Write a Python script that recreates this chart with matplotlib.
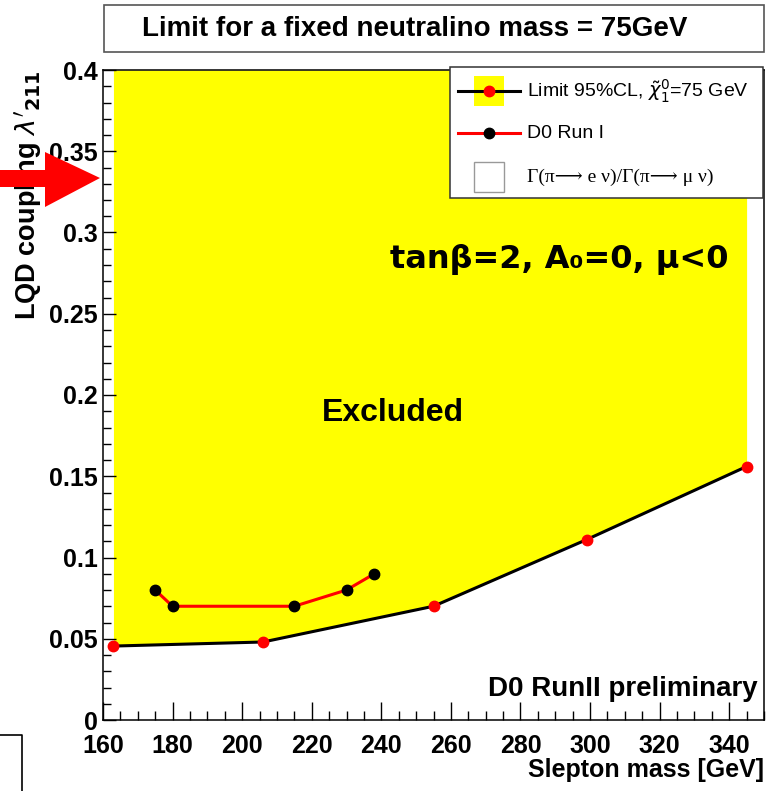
import numpy as np
import matplotlib
matplotlib.use("Agg")
import matplotlib.pyplot as plt
from matplotlib.patches import Rectangle, Polygon
from matplotlib.lines import Line2D
from matplotlib.ticker import MultipleLocator, FormatStrFormatter

# D0 Run II limit, neutralino mass = 75 GeV
limit_mass = [163, 206, 255, 299, 345]
limit_coupling = [0.0455, 0.048, 0.070, 0.111, 0.156]

# D0 Run I limit
run1_mass = [175, 180, 215, 230, 238]
run1_coupling = [0.080, 0.070, 0.070, 0.080, 0.090]

plt.rcParams['font.family'] = ['Liberation Sans', 'DejaVu Sans']

W, H = 775, 791
fig = plt.figure(figsize=(W / 100, H / 100), dpi=100)


def px(x, y):
    # pixel position (from top-left) -> figure fraction
    return (x / W, 1 - y / H)


ax = fig.add_axes([103 / W, 1 - 720 / H, (764 - 103) / W, (720 - 70) / H])

ax.fill_between(limit_mass, limit_coupling, 0.4, color='#ffff00', lw=0)
ax.plot(limit_mass, limit_coupling, color='black', lw=2.2, zorder=3)
ax.plot(limit_mass, limit_coupling, 'o', color='red', ms=7.5, zorder=4)
ax.plot(run1_mass, run1_coupling, color='red', lw=2.2, zorder=3)
ax.plot(run1_mass, run1_coupling, 'o', color='black', ms=7.5, zorder=4)

ax.set_xlim(160, 350)
ax.set_ylim(0, 0.4)
ax.xaxis.set_major_locator(MultipleLocator(20))
ax.xaxis.set_minor_locator(MultipleLocator(5))
ax.yaxis.set_major_locator(MultipleLocator(0.05))
ax.yaxis.set_minor_locator(MultipleLocator(0.01))
ax.yaxis.set_major_formatter(FormatStrFormatter('%g'))
ax.tick_params(which='both', direction='in', top=False, right=False,
               labelsize=18, width=1)
ax.tick_params(axis='x', which='major', length=13, pad=10)
ax.tick_params(axis='x', which='minor', length=6.5)
ax.tick_params(axis='y', which='major', length=9, pad=4)
ax.tick_params(axis='y', which='minor', length=6)
for lab in ax.get_xticklabels() + ax.get_yticklabels():
    lab.set_fontweight('bold')
for s in ax.spines.values():
    s.set_linewidth(1.1)

ax.set_xlabel('Slepton mass [GeV]', fontsize=18, fontweight='bold',
              loc='right', labelpad=0)
ax.set_ylabel(r"LQD coupling $\lambda'_{\mathbf{211}}$", fontsize=19.5,
              fontweight='bold', loc='top', labelpad=0)
ax.yaxis.set_label_coords(-0.09, 1.0)

ax.text(0.439, 0.472, 'Excluded', transform=ax.transAxes, fontsize=23,
        fontweight='bold', ha='center', va='center')
ax.text(0.434, 0.708, 'tanβ=2, A₀=0, μ<0', transform=ax.transAxes,
        fontsize=23, fontweight='bold', ha='left', va='center',
        family=['DejaVu Sans'])
ax.text(0.990, 0.048, 'D0 RunII preliminary', transform=ax.transAxes,
        fontsize=20, fontweight='bold', ha='right', va='center')

# legend box
lx0, lx1, ly0, ly1 = 0.525, 0.998, 0.803, 1.005
ax.add_patch(Rectangle((lx0, ly0), lx1 - lx0, ly1 - ly0, transform=ax.transAxes,
                       facecolor='white', edgecolor='#333333', lw=1.1,
                       clip_on=False, zorder=5))
rows = [0.967, 0.903, 0.835]
sx0, sx1, sxc = 0.537, 0.631, 0.584
sq_w, sq_h = 0.0454, 0.046
ax.add_patch(Rectangle((sxc - sq_w / 2, rows[0] - sq_h / 2), sq_w, sq_h,
                       transform=ax.transAxes, facecolor='#ffff00', lw=0,
                       clip_on=False, zorder=6))
ax.add_line(Line2D([sx0, sx1], [rows[0]] * 2, transform=ax.transAxes,
                   color='black', lw=2.2, clip_on=False, zorder=7))
ax.add_line(Line2D([sxc], [rows[0]], transform=ax.transAxes, marker='o',
                   color='red', ms=7.5, clip_on=False, zorder=8))
ax.add_line(Line2D([sx0, sx1], [rows[1]] * 2, transform=ax.transAxes,
                   color='red', lw=2.2, clip_on=False, zorder=7))
ax.add_line(Line2D([sxc], [rows[1]], transform=ax.transAxes, marker='o',
                   color='black', ms=7.5, clip_on=False, zorder=8))
ax.add_patch(Rectangle((sxc - sq_w / 2, rows[2] - sq_h / 2), sq_w, sq_h,
                       transform=ax.transAxes, facecolor='white',
                       edgecolor='#999999', lw=1, clip_on=False, zorder=6))
tx = 0.641
ax.text(tx, rows[0], r'Limit 95%CL, $\tilde{\chi}^{0}_{1}$=75 GeV',
        transform=ax.transAxes, fontsize=14, va='center', zorder=9)
ax.text(tx, rows[1], 'D0 Run I', transform=ax.transAxes, fontsize=14,
        va='center', zorder=9)
ax.text(tx, rows[2], 'Γ(π⟶ e ν)/Γ(π⟶ μ ν)', transform=ax.transAxes,
        fontsize=14, va='center', zorder=9,
        family=['Liberation Serif', 'DejaVu Serif'])

# title box
bx0, by1 = px(104, 5)
bx1, by0 = px(764, 52)
fig.add_artist(Rectangle((bx0, by0), bx1 - bx0, by1 - by0,
                         transform=fig.transFigure, facecolor='white',
                         edgecolor='#555555', lw=1.2))
fig.text(*px(415, 29), 'Limit for a fixed neutralino mass = 75GeV',
         fontsize=20, fontweight='bold', ha='center', va='center')

# red arrow on the left
arrow = [px(0, 170), px(45, 170), px(45, 152), px(100, 178),
         px(45, 207), px(45, 187), px(0, 187)]
fig.add_artist(Polygon(arrow, closed=True, transform=fig.transFigure,
                       facecolor='red', edgecolor='none', zorder=10))

# partial frame at bottom left
c = [px(0, 735), px(22, 735), px(22, 791)]
fig.add_artist(Line2D([p[0] for p in c], [p[1] for p in c],
                      transform=fig.transFigure, color='black', lw=1.2))

fig.savefig('out.png', dpi=100)
